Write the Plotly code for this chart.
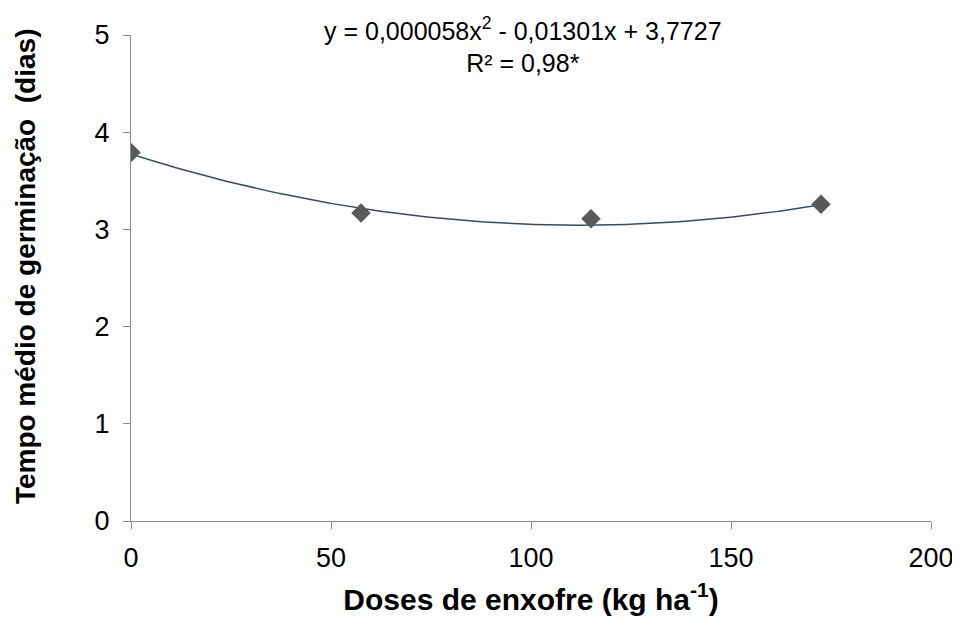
import numpy as np
import plotly.graph_objects as go

doses = [0, 57.5, 115, 172.5]
tempo = [3.79, 3.17, 3.11, 3.26]
coef = [0.000058, -0.01301, 3.7727]  # quadratic trendline coefficients from equation
x_ticks = [0, 50, 100, 150, 200]
y_ticks = [0, 1, 2, 3, 4, 5]

xs = np.linspace(min(doses), max(doses), 200)
ys = np.polyval(coef, xs)

FONT = "Liberation Sans, Arial, sans-serif"

fig = go.Figure()
fig.add_trace(go.Scatter(x=xs, y=ys, mode="lines",
                         line=dict(color="#3A4B6A", width=1.5),
                         showlegend=False, hoverinfo="skip"))
fig.add_trace(go.Scatter(x=doses, y=tempo, mode="markers",
                         marker=dict(symbol="diamond", size=15, color="#595959"),
                         showlegend=False))

fig.add_annotation(x=98, y=1.05, xref="x", yref="paper", yanchor="top",
                   text="y = 0,000058x<sup>2</sup> - 0,01301x + 3,7727<br>R² = 0,98*",
                   showarrow=False, align="center",
                   font=dict(family=FONT, size=25, color="black"))

axis_common = dict(showline=True, linecolor="#8C8C8C", linewidth=1,
                   ticks="outside", ticklen=7, tickcolor="#8C8C8C",
                   showgrid=False, zeroline=False,
                   tickfont=dict(family=FONT, size=27, color="black"))

fig.update_xaxes(range=[0, 200], tickvals=x_ticks, **axis_common,
                 ticklabelstandoff=6,
                 title=dict(text="<b>Doses de enxofre (kg ha<sup>-1</sup>)</b>",
                            font=dict(family=FONT, size=30, color="black"),
                            standoff=16))
fig.update_yaxes(range=[0, 5], tickvals=y_ticks, **axis_common,
                 ticklabelstandoff=8,
                 title=dict(text="<b>\u00a0\u00a0\u00a0Tempo médio de germinação\u00a0\u00a0(dias)</b>",
                            font=dict(family=FONT, size=28, color="black"),
                            standoff=50))

fig.update_layout(width=960, height=619,
                  margin=dict(l=123, r=37, t=23, b=106),
                  plot_bgcolor="white", paper_bgcolor="white")

fig.write_html("out.html")
